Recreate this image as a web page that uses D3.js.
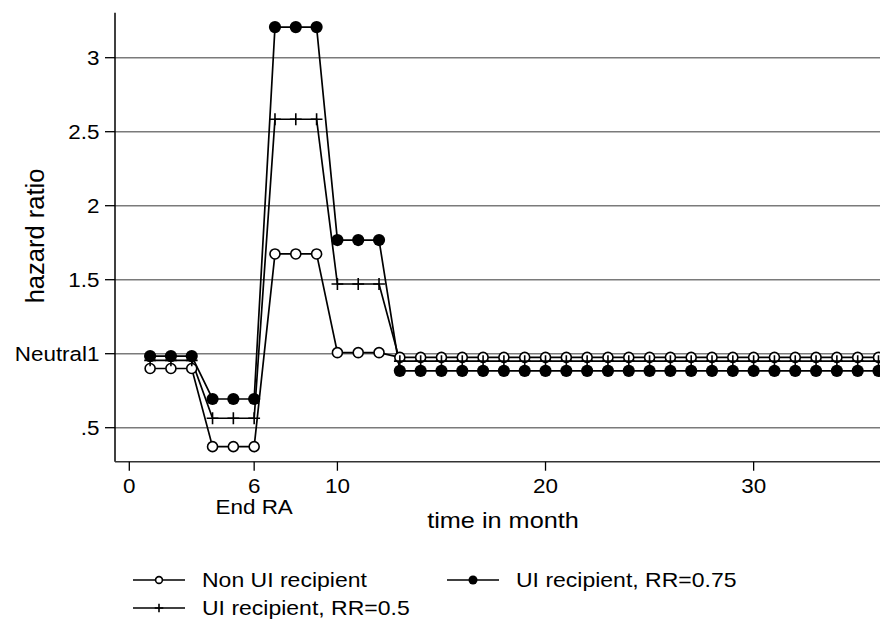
<!DOCTYPE html>
<html><head><meta charset="utf-8">
<script src="https://cdn.jsdelivr.net/npm/d3@7"></script>
<style>body{margin:0;background:#fff}svg{display:block}</style>
</head><body>
<script>
const months = [1,2,3,4,5,6,7,8,9,10,11,12,13,14,15,16,17,18,19,20,21,22,23,24,25,26,27,28,29,30,31,32,33,34,35,36];
const nonUI = [0.90,0.90,0.90,0.372,0.372,0.372,1.674,1.674,1.674,1.007,1.007,1.007,
  0.975,0.975,0.975,0.975,0.975,0.975,0.975,0.975,0.975,0.975,0.975,0.975,
  0.975,0.975,0.975,0.975,0.975,0.975,0.975,0.975,0.975,0.975,0.975,0.975];
const rr075 = [0.984,0.984,0.984,0.694,0.694,0.694,3.207,3.207,3.207,1.768,1.768,1.768,
  0.884,0.884,0.884,0.884,0.884,0.884,0.884,0.884,0.884,0.884,0.884,0.884,
  0.884,0.884,0.884,0.884,0.884,0.884,0.884,0.884,0.884,0.884,0.884,0.884];
const rr05 = [0.955,0.955,0.955,0.564,0.564,0.564,2.584,2.584,2.584,1.471,1.471,1.471,
  0.950,0.950,0.950,0.950,0.950,0.950,0.950,0.950,0.950,0.950,0.950,0.950,
  0.950,0.950,0.950,0.950,0.950,0.950,0.950,0.950,0.950,0.950,0.950,0.950];
const seriesNames = ["Non UI recipient","UI recipient, RR=0.75","UI recipient, RR=0.5"];
const seriesSymbols = ["open","filled","plus"];
const yTicks = [0.5,1,1.5,2,2.5,3];
const yTickLabels = [".5","Neutral1","1.5","2","2.5","3"];
const xTicks = [0,6,10,20,30];
const xTickLabels = ["0","6","10","20","30"];
const xExtraLabel = {value:6, text:"End RA"};
const xTitle = "time in month";
const yTitle = "hazard ratio";

const W=880,H=625;
const FONT="'Liberation Sans', Arial, Helvetica, sans-serif";
const SX=1.15;
const svg=d3.select("body").append("svg").attr("width",W).attr("height",H);

const x=d3.scaleLinear().domain([0,36]).range([129.3,878.5]);
const y=d3.scaleLinear().domain([0.5,3]).range([427.7,57.7]);
const plotL=115, plotTop=y(3.304), plotBot=y(0.27), plotR=x(37);

// gridlines
svg.append("g").selectAll("line").data(yTicks).join("line")
  .attr("x1",plotL).attr("x2",plotR).attr("y1",d=>y(d)).attr("y2",d=>y(d))
  .attr("stroke","#7a7a7a").attr("stroke-width",1.6);

// axes lines
svg.append("line").attr("x1",plotL).attr("x2",plotL).attr("y1",plotTop).attr("y2",plotBot)
  .attr("stroke","#000").attr("stroke-width",1.5);
svg.append("line").attr("x1",plotL).attr("x2",plotR).attr("y1",plotBot).attr("y2",plotBot)
  .attr("stroke","#333").attr("stroke-width",1.5);

function stext(g,tx,ty,str,size,anchor,sx){
  return g.append("text").attr("transform",`translate(${tx},${ty}) scale(${sx||SX},1)`)
    .attr("text-anchor",anchor).attr("font-family",FONT).attr("font-size",size).attr("fill","#000").text(str);
}

// y ticks
const gy=svg.append("g");
yTicks.forEach((v,i)=>{
  gy.append("line").attr("x1",105).attr("x2",plotL).attr("y1",y(v)).attr("y2",y(v)).attr("stroke","#000").attr("stroke-width",1.3);
  stext(gy,99.5,y(v)+7,yTickLabels[i],19.5,"end");
});
// x ticks
const gx=svg.append("g");
xTicks.forEach((v,i)=>{
  gx.append("line").attr("x1",x(v)).attr("x2",x(v)).attr("y1",plotBot).attr("y2",plotBot+9).attr("stroke","#000").attr("stroke-width",1.3);
  stext(gx,x(v),493,xTickLabels[i],19.5,"middle");
});
stext(gx,x(xExtraLabel.value),514,xExtraLabel.text,19.5,"middle");
stext(svg,503,528,xTitle,22,"middle");
svg.append("text").attr("transform",`translate(44,236) rotate(-90)`).attr("text-anchor","middle")
  .attr("font-family",FONT).attr("font-size",25.5).text(yTitle);

// series
const all=[nonUI,rr075,rr05];
const line=d3.line().x((d,i)=>x(months[i])).y(d=>y(d));
const gs=svg.append("g");
function drawMarker(g,cx,cy,sym,r){
  if(sym==="open") g.append("circle").attr("cx",cx).attr("cy",cy).attr("r",r).attr("fill","#fff").attr("stroke","#000").attr("stroke-width",1.6);
  else if(sym==="filled") g.append("circle").attr("cx",cx).attr("cy",cy).attr("r",r+1.1).attr("fill","#000");
  else { g.append("path").attr("d",`M${cx-r-0.9},${cy}H${cx+r+0.9}M${cx},${cy-r-0.9}V${cy+r+0.9}`).attr("stroke","#000").attr("stroke-width",1.6); }
}
all.forEach((vals,si)=>{
  gs.append("path").attr("d",line(vals)).attr("fill","none").attr("stroke","#000").attr("stroke-width",1.7);
});
all.forEach((vals,si)=>{
  vals.forEach((v,i)=>drawMarker(gs,x(months[i]),y(v),seriesSymbols[si],5));
});

// legend
const leg=svg.append("g");
const legPos=[[133,580],[447,580],[133,608]];
seriesNames.forEach((n,i)=>{
  const [lx,ly]=legPos[i];
  leg.append("line").attr("x1",lx).attr("x2",lx+52).attr("y1",ly).attr("y2",ly).attr("stroke","#000").attr("stroke-width",1.7);
  drawMarker(leg,lx+26,ly,seriesSymbols[i],3.4);
  stext(leg,lx+69,ly+7,n,20,"start");
});
</script>
</body></html>
